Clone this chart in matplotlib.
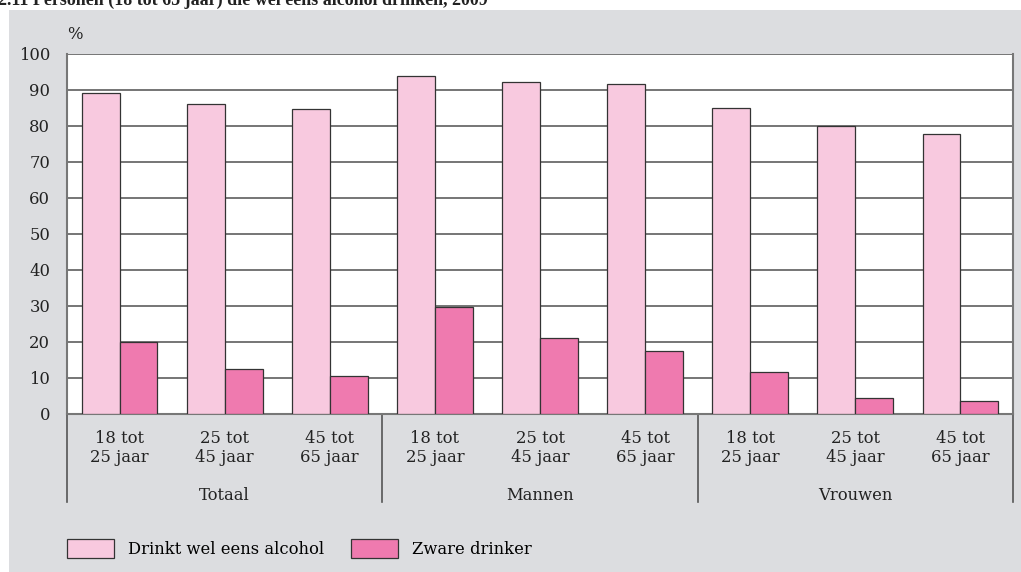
import matplotlib.pyplot as plt
from matplotlib.patches import Rectangle
import numpy as np

plt.rcParams['font.family'] = ['DejaVu Serif']

groups = ["Totaal", "Mannen", "Vrouwen"]
age_labels = ["18 tot\n25 jaar", "25 tot\n45 jaar", "45 tot\n65 jaar"]
drinkt = [89.1, 86.1, 84.6, 93.9, 92.3, 91.8, 84.9, 80.1, 77.7]
zwaar = [20.0, 12.5, 10.5, 29.8, 21.0, 17.5, 11.6, 4.4, 3.6]
ser_names = ["Drinkt wel eens alcohol", "Zware drinker"]
c_light = "#f8c9df"
c_dark = "#ef7aaf"
W, H = 1021, 572
fs = 11.8

fig = plt.figure(figsize=(W / 100, H / 100), dpi=100)
fig.patch.set_facecolor("white")

# grey panel behind the chart
fig.patches.append(Rectangle((9 / W, 0), 1 - 9 / W, 1 - 10 / H, transform=fig.transFigure,
                             facecolor="#dcdde0", edgecolor="none", zorder=-5))

# title, cut off at the top edge like in the source scan
fig.text(-2 / W, 1 - 5 / H, "2.11 Personen (18 tot 65 jaar) die wel eens alcohol drinken, 2009",
         fontsize=13, fontweight="bold", family="Liberation Serif",
         va="baseline", ha="left", color="#222222")

ax = fig.add_axes([67 / W, (H - 414) / H, (1013 - 67) / W, 360 / H])
ax.set_zorder(2)
ax.set_facecolor("white")

x = np.arange(len(drinkt))
b1 = ax.bar(x - 0.18, drinkt, 0.36, color=c_light, edgecolor="#333333", linewidth=0.9, zorder=3)
b2 = ax.bar(x + 0.18, zwaar, 0.36, color=c_dark, edgecolor="#333333", linewidth=0.9, zorder=3)

ax.set_xlim(-0.5, 8.5)
ax.set_ylim(0, 100)
ax.set_yticks(range(0, 101, 10))
ax.tick_params(axis="y", length=0, pad=12, labelsize=fs, labelcolor="#222222")
ax.set_xticks([])
ax.grid(axis="y", color="#6a6a6a", linewidth=1.3, zorder=1)
for s in ["left", "right", "bottom"]:
    ax.spines[s].set_color("#777777")
    ax.spines[s].set_linewidth(1.5)
ax.spines["top"].set_visible(False)

ax.text(0, 1.055, "%", transform=ax.transAxes, fontsize=fs, color="#222222", ha="left", va="center")

tr = ax.get_xaxis_transform()
for i in range(len(drinkt)):
    ax.text(i, -34 / 360, age_labels[i % 3], transform=tr, ha="center", va="center",
            fontsize=fs, linespacing=1.15, color="#222222")
for g, name in enumerate(groups):
    ax.text(3 * g + 1, -81 / 360, name, transform=tr, ha="center", va="center",
            fontsize=fs, color="#222222")
for xs in [-0.5, 2.5, 5.5, 8.5]:
    ax.plot([xs, xs], [0, -88 / 360], transform=tr, color="#555555", linewidth=1.2, clip_on=False)

fig.legend([b1, b2], ser_names, loc="upper left", bbox_to_anchor=(67 / W, 1 - 539 / H),
           ncol=2, frameon=False, fontsize=fs, handlelength=2.85, handleheight=1.45,
           handletextpad=0.9, columnspacing=1.6, borderpad=0, borderaxespad=0)

fig.savefig("out.png", dpi=100)
